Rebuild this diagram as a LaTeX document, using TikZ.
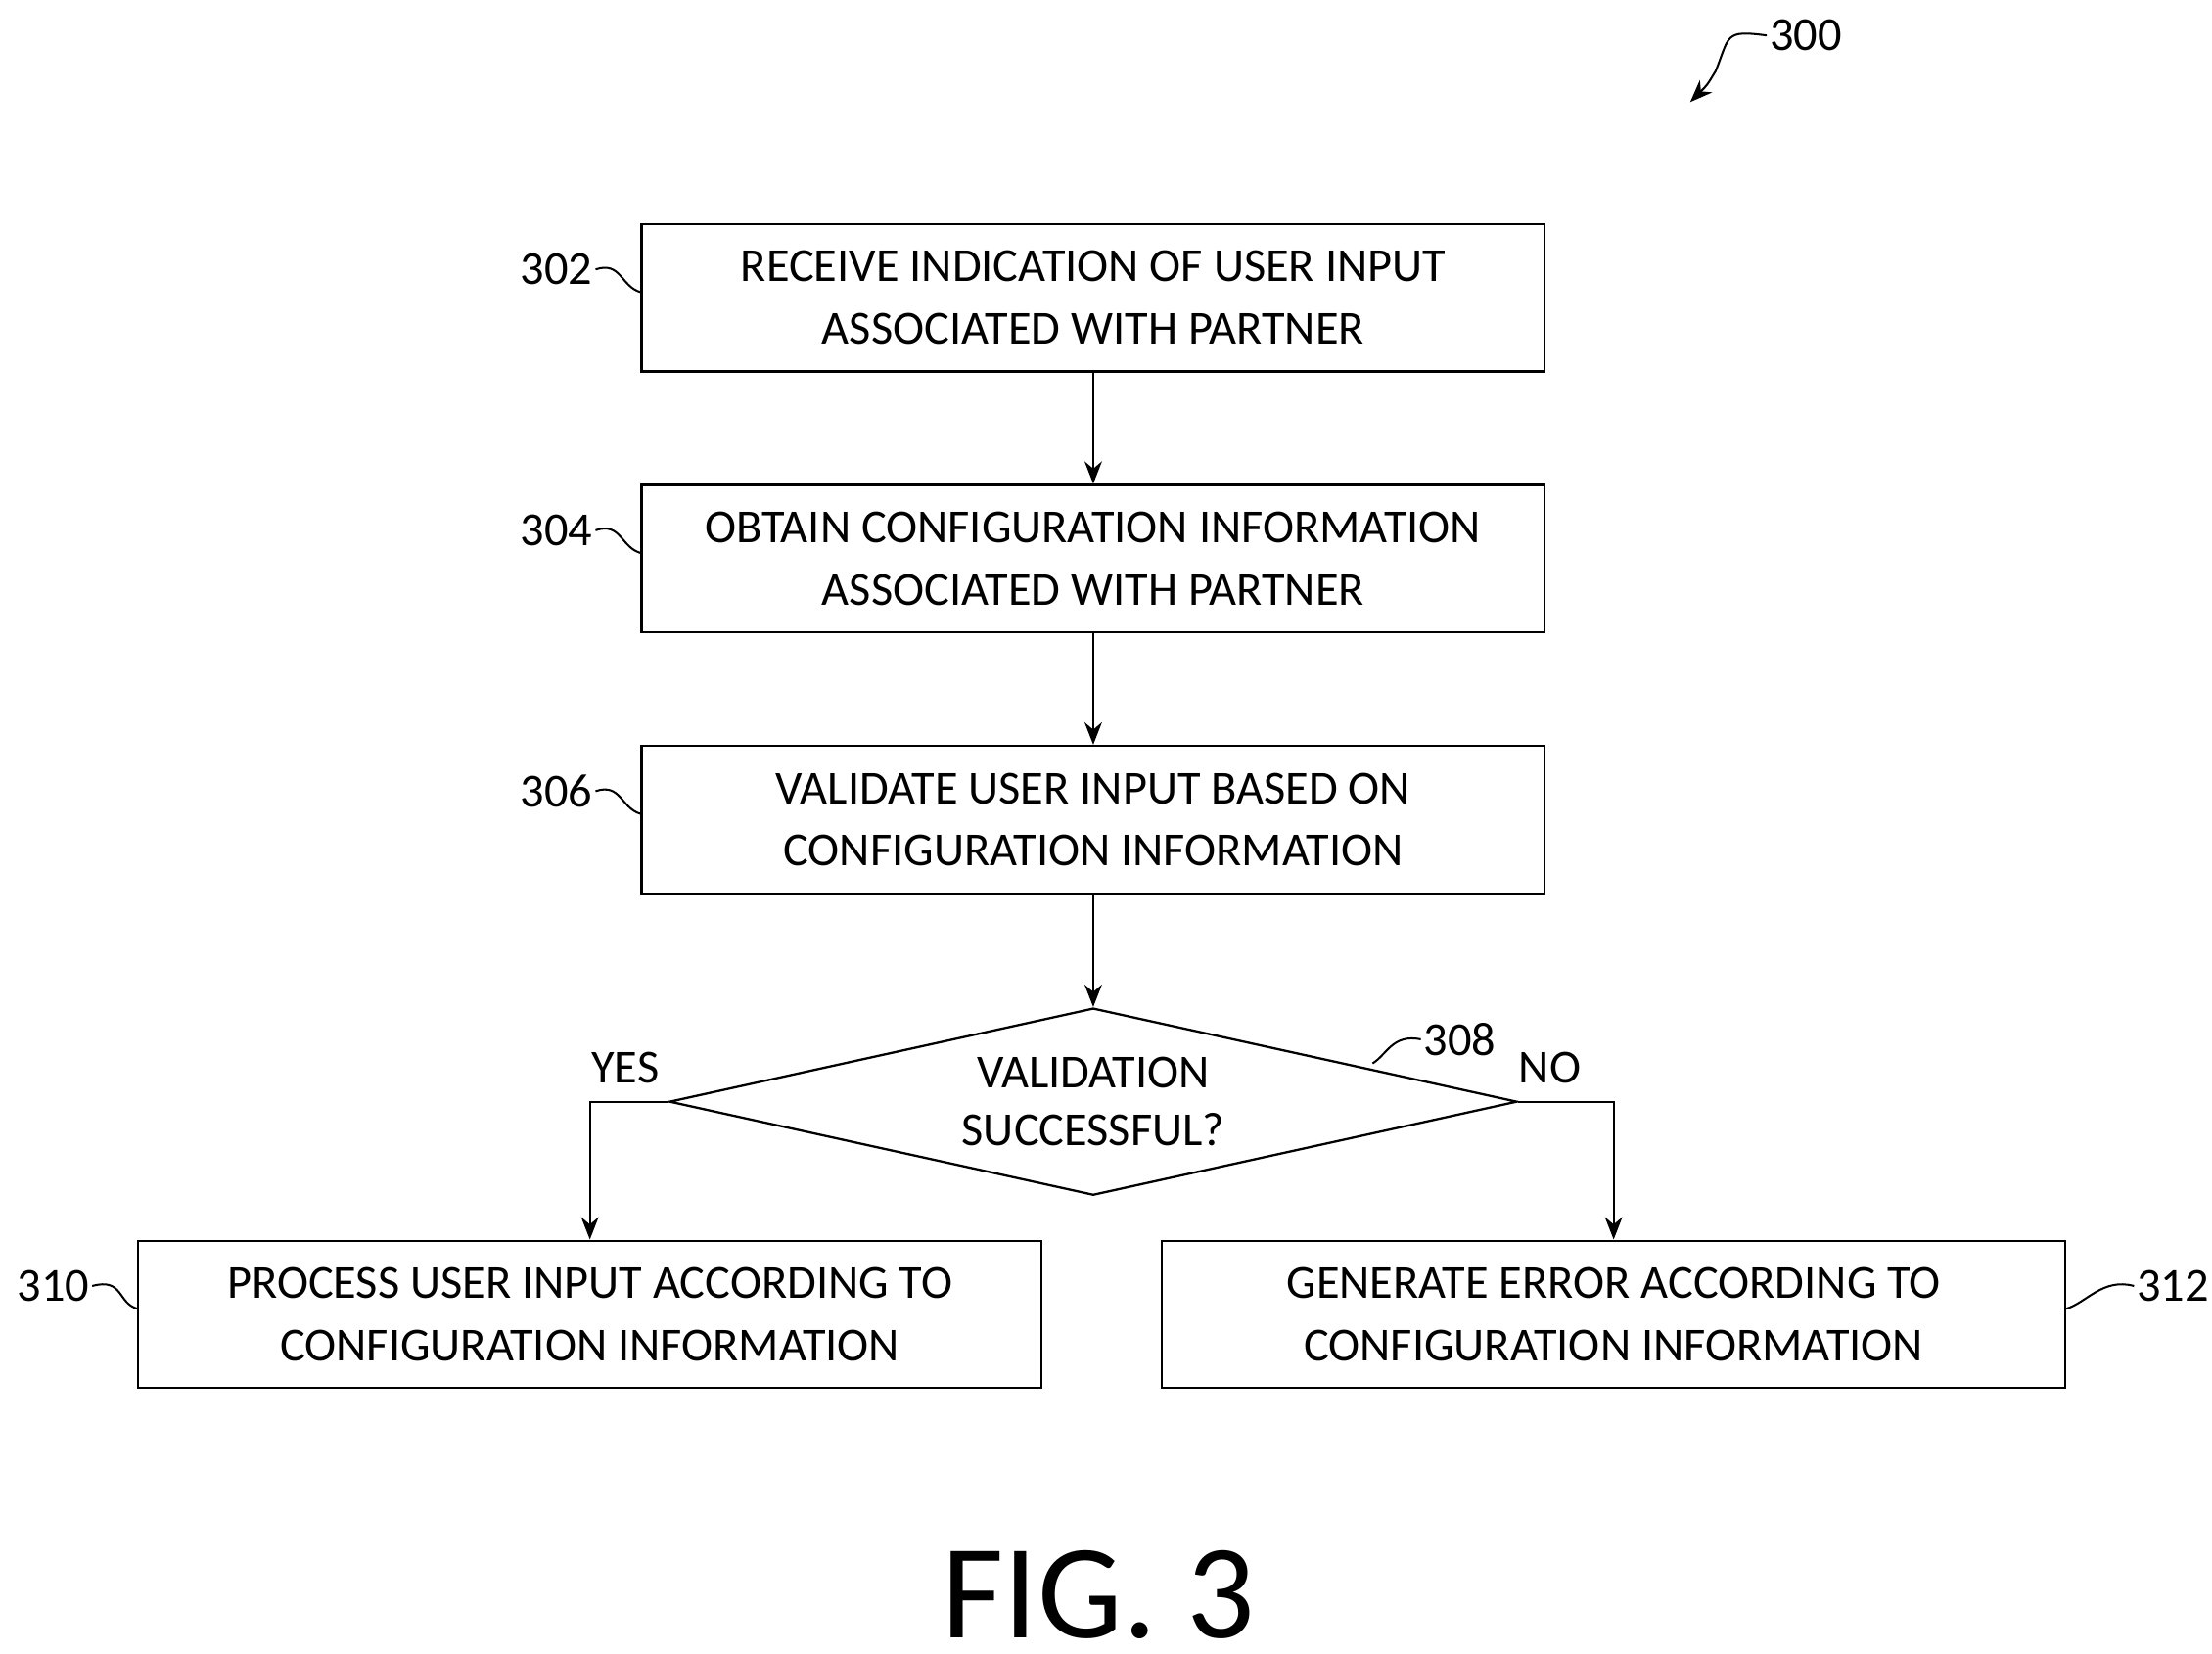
\documentclass[tikz,border=0pt]{standalone}
\usepackage{fontspec}
\setmainfont{Carlito}
\usetikzlibrary{shapes.geometric,arrows.meta,positioning}
\tikzset{
  pstep/.style={draw, line width=0.9pt, minimum width=12.74cm, minimum height=2.08cm,
    align=center, font=\fontsize{19}{25}\selectfont, inner sep=0pt},
  ptest/.style={draw, diamond, aspect=4.53, line width=0.9pt, minimum width=11.96cm, minimum height=2.64cm,
    align=center, font=\fontsize{19}{23}\selectfont, inner sep=0pt},
  flow/.style={line width=0.9pt, -{Stealth[length=9pt,width=7pt]}},
  tag/.style={font=\fontsize{19}{23}\selectfont, inner sep=1pt},
  wave/.style={line width=0.8pt}
}
\begin{document}
\begin{tikzpicture}[x=0.02cm,y=-0.02cm]
    \useasboundingbox (0,0) rectangle (1560,1166);

    \node[pstep] (b302) at (771,210) {RECEIVE INDICATION OF USER INPUT\\ASSOCIATED WITH PARTNER};
    \node[pstep] (b304) at (771,394) {OBTAIN CONFIGURATION INFORMATION\\ASSOCIATED WITH PARTNER};
    \node[pstep] (b306) at (771,578) {VALIDATE USER INPUT BASED ON\\CONFIGURATION INFORMATION};
    \node[ptest] (d308) at (771,777) {VALIDATION\\SUCCESSFUL?};
    \node[pstep] (b310) at (416,927) {PROCESS USER INPUT ACCORDING TO\\CONFIGURATION INFORMATION};
    \node[pstep] (b312) at (1138,927) {GENERATE ERROR ACCORDING TO\\CONFIGURATION INFORMATION};

    \draw[flow] (b302) -- (b304);
    \draw[flow] (b304) -- (b306);
    \draw[flow] (b306) -- (d308);
    \draw[flow] (d308.west) -| (b310.north);
    \draw[flow] (d308.east) -| (b312.north);

    \node[tag] (yes) at (441,753) {YES};
    \node[tag] (no) at (1093,753) {NO};

    % reference numerals
    \node[tag, anchor=east] (l302) at (420,190) {302};
    \node[tag, anchor=east] (l304) at (420,374) {304};
    \node[tag, anchor=east] (l306) at (420,558) {306};
    \node[tag, anchor=east] (l310) at (65,907) {310};
    \node[tag, anchor=west] (l312) at (1505,907) {312};
    \node[tag, anchor=west] (l308) at (1002,733) {308};
    \node[tag, anchor=west] (l300) at (1246,25) {300};
    \coordinate (t300) at (1192,72);

    \draw[wave] (l302.east) .. controls +(18,-6) and +(-14,-4) .. (b302.west |- 0,206);
    \draw[wave] (l304.east) .. controls +(18,-6) and +(-14,-4) .. (b304.west |- 0,390);
    \draw[wave] (l306.east) .. controls +(18,-6) and +(-14,-4) .. (b306.west |- 0,574);
    \draw[wave] (l310.east) .. controls +(22,-6) and +(-14,-4) .. (b310.west |- 0,923);
    \draw[wave] (l312.west) .. controls +(-22,-6) and +(14,-4) .. (b312.east |- 0,923);
    \draw[wave] (l308.west) .. controls +(-20,-4) and +(10,-6) .. (968,750);
    \draw[wave, -{Stealth[length=9pt,width=7pt]}] (l300.west) .. controls +(-30,-4) and +(10,-25) .. (1210,50) .. controls +(-6,10) .. (t300);

    \node[font=\fontsize{54}{60}\selectfont] (fig) at (775,1125) {FIG. 3};
\end{tikzpicture}
\end{document}
